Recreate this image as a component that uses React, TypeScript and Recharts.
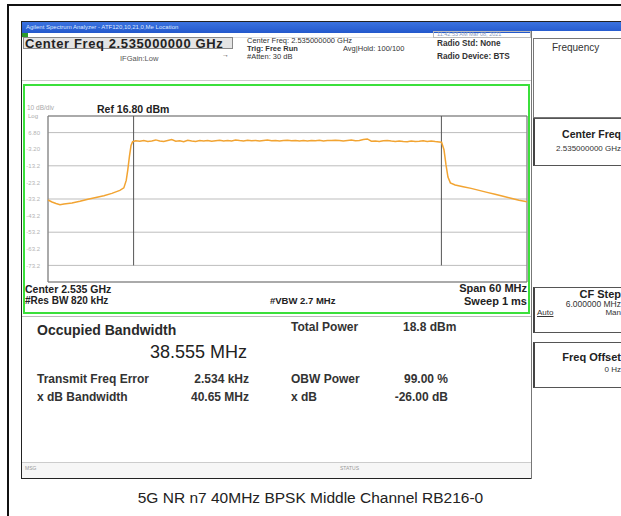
import { LineChart, Line, XAxis, YAxis, CartesianGrid, ReferenceLine } from 'recharts';

// frequency offset from 2.535 GHz centre (MHz) and trace level (dBm)
const freqOffsets = [
  -30, -29.5, -29, -28.5, -28, -27, -26, -25, -24, -23, -22, -21, -20.5, -20.2, -20, -19.8, -19.6, -19.4,
  -19, -18.5, -18, -17.5, -17, -16.5, -16, -15.5, -15, -14.5, -14, -13.5, -13, -12.5, -12, -11.5, -11, -10.5,
  -10, -9.5, -9, -8.5, -8, -7.5, -7, -6.5, -6, -5.5, -5, -4.5, -4, -3.5, -3, -2.5, -2, -1.5, -1, -0.5,
  0, 0.5, 1, 1.5, 2, 2.5, 3, 3.5, 4, 4.5, 5, 5.5, 6, 6.5, 7, 7.5, 8, 8.5, 9, 9.5,
  10, 10.5, 11, 11.5, 12, 12.5, 13, 13.5, 14, 14.5, 15, 15.5, 16, 16.5, 17, 17.5, 18, 18.5, 19,
  19.3, 19.6, 19.85, 20.1, 20.4, 21, 22, 23, 24, 25, 26, 27, 28, 29, 30,
];
const traceLevels = [
  -33.8, -35.0, -35.9, -36.6, -36.2, -35.6, -34.6, -33.4, -32.3, -31.2, -29.8, -28.0, -26.5, -22.0, -15.5, -7.5, -1.0, 1.3,
  1.9, 1.6, 2.1, 1.5, 1.8, 2.4, 1.7, 1.4, 2.0, 2.6, 1.6, 1.9, 1.3, 2.2, 1.8, 1.5, 2.0, 1.7,
  2.1, 1.6, 1.9, 2.2, 1.8, 2.0, 1.7, 2.3, 2.0, 1.8, 2.2, 1.9, 2.1, 1.7, 2.0, 2.3, 1.9, 2.1, 1.8, 2.0,
  2.2, 1.9, 2.1, 1.8, 2.0, 1.7, 2.1, 1.9, 2.2, 1.8, 2.0, 2.0, 2.2, 2.1, 1.7, 2.0, 2.3, 1.9, 2.1, 2.7,
  3.0, 1.6, 1.8, 1.5, 1.9, 2.1, 1.7, 1.4, 1.8, 1.5, 1.3, 1.7, 1.4, 1.6, 1.9, 1.5, 1.7, 1.4, 1.2,
  1.0, -3.5, -12.5, -20.0, -23.5, -24.8, -25.8, -26.8, -28.0, -29.2, -30.4, -31.6, -32.8, -34.0, -34.8,
];

const xTicks = [-30, -24, -18, -12, -6, 0, 6, 12, 18, 24, 30];
const yTicks = [16.8, 6.8, -3.2, -13.2, -23.2, -33.2, -43.2, -53.2, -63.2, -73.2, -83.2];
const yTickLabels = ['', '6.80', '-3.20', '-13.2', '-23.2', '-33.2', '-43.2', '-53.2', '-63.2', '-73.2', ''];
const obwEdges = [-19.2775, 19.2775];

const data = freqOffsets.map((f, i) => ({ f, level: traceLevels[i] }));

const FONT = '"Liberation Sans", Arial, sans-serif';

const T = ({ x, y, size = 8, bold = false, color = '#222', right, spacing = 0, children }: any) => (
  <div
    style={{
      position: 'absolute',
      left: right === undefined ? x : undefined,
      right: right === undefined ? undefined : 621 - right,
      top: y,
      fontSize: size,
      fontWeight: bold ? 'bold' : 'normal',
      color,
      letterSpacing: spacing,
      whiteSpace: 'nowrap',
      lineHeight: 1,
    }}
  >
    {children}
  </div>
);

const Box = ({ x, y, w, h, style }: any) => (
  <div style={{ position: 'absolute', left: x, top: y, width: w, height: h, boxSizing: 'border-box', ...style }} />
);

export default function App() {
  return (
    <div
      style={{
        position: 'absolute',
        left: 0,
        top: 0,
        width: 621,
        height: 516,
        background: '#fff',
        overflow: 'hidden',
        fontFamily: FONT,
      }}
    >
      {/* outer frame */}
      <Box x={7} y={4} w={640} h={540} style={{ border: '2px solid #111' }} />

      {/* screenshot frame */}
      <Box x={21} y={21} w={602} h={458} style={{ border: '1px solid #222', background: '#fff' }} />
      <Box x={22} y={22} w={600} h={11} style={{ background: 'linear-gradient(#3a72e0, #2358cc)' }} />
      <T x={26} y={24} size={6} color="#dfe8ff">Agilent Spectrum Analyzer - ATF120,10,21,0,Me Location</T>
      <Box x={22} y={33} w={6} h={5} style={{ background: '#2a9a2a' }} />
      <Box x={22} y={33} w={510} h={5} style={{ borderBottom: '1px solid #ddd' }} />
      <Box x={433} y={31} w={98} h={7} style={{ border: '1px solid #bbb' }} />
      <T x={437} y={32} size={5.5} color="#8899bb">11:42:53 AM Mar 08, 2021</T>

      {/* header info */}
      <Box x={23} y={37} w={210} h={12} style={{ background: '#e4e4e4', border: '1px solid #888' }} />
      <T x={25} y={36.5} size={13} bold spacing={0.6}>Center Freq 2.535000000 GHz</T>
      <T x={222} y={51} size={7} color="#444">→</T>
      <T x={120} y={55} size={7.5} color="#555">IFGain:Low</T>
      <T x={247} y={37} size={7.5} color="#333">Center Freq: 2.535000000 GHz</T>
      <T x={247} y={45} size={7.5} bold color="#333">Trig: Free Run</T>
      <T x={343} y={45} size={7.5} color="#333">Avg|Hold: 100/100</T>
      <T x={247} y={53} size={7.5} color="#333">#Atten: 30 dB</T>
      <T x={437} y={40} size={8.2} bold color="#333">Radio Std: None</T>
      <T x={437} y={53} size={8.2} bold color="#333">Radio Device: BTS</T>
      <Box x={22} y={80} w={509} h={1} style={{ background: '#ccc' }} />

      {/* right soft-key panel */}
      <Box x={531} y={31} w={92} h={448} style={{ borderLeft: '1px solid #777', background: '#fff' }} />
      <Box x={533} y={38} w={90} h={80} style={{ border: '1px solid #777' }} />
      <T x={552} y={43} size={10} color="#333">Frequency</T>
      <Box x={533} y={118} w={90} h={48} style={{ border: '1px solid #555', borderLeft: '2px solid #444' }} />
      <T right={621} y={129} size={10.5} bold>Center Freq</T>
      <T right={621} y={145} size={8} color="#333">2.535000000 GHz</T>
      <Box x={533} y={287} w={90} h={46} style={{ border: '1px solid #555', borderLeft: '2px solid #444' }} />
      <T right={621} y={289} size={11} bold>CF Step</T>
      <T right={621} y={300} size={8.5} color="#333">6.000000 MHz</T>
      <T x={537} y={309} size={8} color="#333"><span style={{ textDecoration: 'underline' }}>Auto</span></T>
      <T right={621} y={309} size={8} color="#333">Man</T>
      <Box x={533} y={342} w={90} h={46} style={{ border: '1px solid #555', borderLeft: '2px solid #444' }} />
      <T right={621} y={352} size={11} bold>Freq Offset</T>
      <T right={621} y={366} size={8} color="#333">0 Hz</T>

      {/* green measurement window */}
      <Box x={23} y={84} w={507} h={230} style={{ border: '2px solid #3be03b' }} />
      <T x={27} y={105} size={6.5} color="#aaa">10 dB/div</T>
      <T x={28} y={113} size={6} color="#aaa">Log</T>
      <T x={97} y={104} size={10.5} bold>Ref 16.80 dBm</T>

      <div style={{ position: 'absolute', left: 26, top: 110 }}>
        <LineChart width={503} height={180} data={data} margin={{ top: 6, right: 2, left: 0, bottom: 8 }}>
          <CartesianGrid stroke="#bdbdbd" strokeWidth={1} />
          <XAxis
            type="number"
            dataKey="f"
            domain={[-30, 30]}
            ticks={xTicks}
            tick={false}
            tickLine={false}
            axisLine={false}
            height={0}
          />
          <YAxis
            type="number"
            domain={[-83.2, 16.8]}
            ticks={yTicks}
            tickFormatter={(v: number) => yTickLabels[yTicks.indexOf(v)] ?? ''}
            tick={{ fontSize: 6, fill: '#b4b4b4', fontFamily: FONT }}
            tickLine={false}
            axisLine={false}
            width={22}
            tickMargin={2}
          />
          <ReferenceLine y={16.8} stroke="#777" />
          <ReferenceLine y={-83.2} stroke="#777" />
          <ReferenceLine x={-30} stroke="#777" />
          <ReferenceLine x={30} stroke="#777" />
          {obwEdges.map((e) => (
            <ReferenceLine
              key={e}
              segment={[
                { x: e, y: 16.8 },
                { x: e, y: -73.2 },
              ]}
              stroke="#555"
            />
          ))}
          <Line
            type="linear"
            dataKey="level"
            stroke="#f2a432"
            strokeWidth={1.5}
            dot={false}
            isAnimationActive={false}
          />
        </LineChart>
      </div>

      <T x={25} y={284} size={10.5} bold>Center  2.535 GHz</T>
      <T x={25} y={296} size={10} bold>#Res BW  820 kHz</T>
      <T x={270} y={296} size={9.5} bold>#VBW  2.7 MHz</T>
      <T right={527} y={283} size={11} bold>Span 60 MHz</T>
      <T right={527} y={296} size={11} bold>Sweep  1 ms</T>

      {/* results */}
      <Box x={22} y={316} w={509} h={1} style={{ background: '#bbb' }} />
      <T x={37} y={323} size={14} bold color="#2a2a2a">Occupied Bandwidth</T>
      <T x={150} y={343} size={18} color="#222">38.555 MHz</T>
      <T x={291} y={321} size={12} bold color="#333">Total Power</T>
      <T x={403} y={321} size={12} bold color="#333">18.8 dBm</T>
      <T x={37} y={373} size={12} bold color="#333">Transmit Freq Error</T>
      <T right={249} y={373} size={12} bold color="#333">2.534 kHz</T>
      <T x={291} y={373} size={12} bold color="#333">OBW Power</T>
      <T right={448} y={373} size={12} bold color="#333">99.00 %</T>
      <T x={37} y={391} size={12} bold color="#333">x dB Bandwidth</T>
      <T right={249} y={391} size={12} bold color="#333">40.65 MHz</T>
      <T x={291} y={391} size={12} bold color="#333">x dB</T>
      <T right={448} y={391} size={12} bold color="#333">-26.00 dB</T>

      {/* status bar */}
      <Box x={22} y={462} w={509} h={16} style={{ borderTop: '1px solid #ccc', background: '#f6f6f6' }} />
      <T x={25} y={466} size={5} color="#999">MSG</T>
      <T x={340} y={466} size={5} color="#999">STATUS</T>

      {/* caption */}
      <div
        style={{
          position: 'absolute',
          left: 0,
          width: 621,
          top: 490,
          textAlign: 'center',
          fontSize: 15.5,
          color: '#222',
          fontFamily: FONT,
          lineHeight: 1,
        }}
      >
        5G NR n7 40MHz BPSK Middle Channel RB216-0
      </div>
    </div>
  );
}
